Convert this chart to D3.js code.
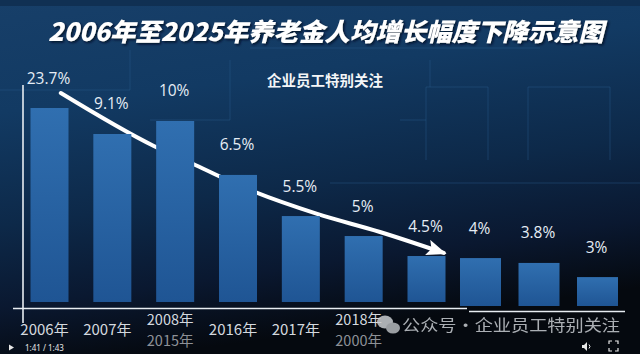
<!DOCTYPE html>
<html><head><meta charset="utf-8">
<script src="https://cdn.jsdelivr.net/npm/d3@7/dist/d3.min.js"></script>
<style>html,body{margin:0;padding:0;background:#0a1628;overflow:hidden}svg{display:block}</style>
</head><body><svg id="chart" width="640" height="354"></svg>
<script>
// ---- data ----
const categories = ["2006年","2007年","2008年","2016年","2017年","2018年","2021年","2022年","2023年","2024年"];
const subLabels  = ["","","2015年","","","2000年","","","",""];
const growthRates = [23.7, 9.1, 10, 6.5, 5.5, 5, 4.5, 4, 3.8, 3];           // value labels (%)
const barLevels   = [100, 86.6, 93.3, 65.5, 44.3, 34, 23.7, 24.7, 22.2, 14.9]; // schematic bar heights as drawn (relative, tallest = 100)
const trendIndex  = [0.18, 1.66, 2.32, 3.19, 4.26, 5.26, 6.32];               // trend arrow, category position
const trendLevel  = [107.7, 80.4, 70.6, 57.7, 45.4, 36.1, 25.3];              // trend arrow, level
const titleText = "2006年至2025年养老金人均增长幅度下降示意图";
const subTitle = "企业员工特别关注";
const watermark = "公众号·企业员工特别关注";
const visibleCategoryCount = 6; // the later year labels are hidden under the watermark

// ---- setup ----
const W = 640, H = 354;
const svg = d3.select("#chart");
const defs = svg.append("defs");

const bg = defs.append("linearGradient").attr("id","bg").attr("x1",0).attr("y1",0).attr("x2",0.25).attr("y2",1);
[[0,"#173f69"],[0.3,"#123a63"],[0.6,"#0d2949"],[0.82,"#0a1830"],[1,"#05090f"]].forEach(([o,c])=>bg.append("stop").attr("offset",o).attr("stop-color",c));
const barG = defs.append("linearGradient").attr("id","barg").attr("x1",0).attr("y1",0).attr("x2",0).attr("y2",1);
barG.append("stop").attr("offset",0).attr("stop-color","#306fb0");
barG.append("stop").attr("offset",1).attr("stop-color","#1f5594");
const sh = defs.append("filter").attr("id","shadow").attr("x","-5%").attr("y","-30%").attr("width","110%").attr("height","160%");
sh.append("feDropShadow").attr("dx",1.5).attr("dy",1.5).attr("stdDeviation",1.2).attr("flood-color","#041020").attr("flood-opacity",0.9);
defs.append("marker").attr("id","arrow").attr("markerUnits","userSpaceOnUse")
  .attr("viewBox","0 0 20 16").attr("refX",17).attr("refY",8)
  .attr("markerWidth",20).attr("markerHeight",16).attr("orient","auto")
  .append("path").attr("d","M0,0 L20,8 L0,16 L4,8 Z").attr("fill","#ffffff");

svg.append("rect").attr("width",W).attr("height",H).attr("fill","url(#bg)");
svg.append("rect").attr("width",W).attr("height",6).attr("fill","#0f2d4e").attr("opacity",0.8);

// faint decorative circuit lines
const deco = svg.append("g").attr("stroke","#2a5a8c").attr("stroke-width",1).attr("fill","none").attr("opacity",0.45);
deco.append("path").attr("d","M426,160 V87 H488 V160 M528,160 V87 H610 V160 M400,120 H426 M330,183 H640 M430,87 V60 M0,90 H130 V50 M150,120 H230 V60 M250,48 H540");

// ---- scales ----
const x = d3.scaleLinear().domain([0,6,7,9]).range([49.5,426.5,480.5,597.5]);
const yA = d3.scaleLinear().domain([0,100]).range([302,108]);
const yB = d3.scaleLinear().domain([0,100]).range([306,112]);
const yOf = i => i < 7 ? yA : yB;
const bw = i => i < 7 ? 38 : 41;

// trend arrow (under bars)
const pts = trendIndex.map((t,i)=>[x(t), yA(trendLevel[i])]);
svg.append("path").attr("d", d3.line().curve(d3.curveMonotoneX)(pts))
  .attr("fill","none").attr("stroke","#ffffff").attr("stroke-width",4)
  .attr("stroke-linecap","round").attr("marker-end","url(#arrow)");

// bars
svg.append("g").selectAll("rect").data(barLevels).join("rect")
  .attr("x",(d,i)=>x(i)-bw(i)/2)
  .attr("y",(d,i)=>yOf(i)(d))
  .attr("width",(d,i)=>bw(i))
  .attr("height",(d,i)=>yOf(i)(0)-yOf(i)(d))
  .attr("fill","url(#barg)");

// value labels
svg.append("g").selectAll("text").data(growthRates).join("text")
  .attr("x",(d,i)=>x(i)-1)
  .attr("y",(d,i)=>yOf(i)(barLevels[i]) - 30 + 5.5)
  .attr("text-anchor","middle")
  .attr("font-family","'Open Sans','Noto Sans',sans-serif")
  .attr("font-size",15.5).attr("fill","#e6edf5")
  .text(d=>d+"%");

// axes lines
svg.append("line").attr("x1",23).attr("x2",23).attr("y1",85).attr("y2",323).attr("stroke","#e8edf2").attr("stroke-width",1.6);
svg.append("line").attr("x1",13).attr("x2",467).attr("y1",308.5).attr("y2",308.5).attr("stroke","#e8edf2").attr("stroke-width",1.6);
svg.append("line").attr("x1",469).attr("x2",625).attr("y1",311.5).attr("y2",311.5).attr("stroke","#e8edf2").attr("stroke-width",1.6);

// category labels
const catG = svg.append("g").attr("font-family","'Noto Sans CJK SC','Noto Sans',sans-serif").attr("text-anchor","middle");
const shownCats = categories.slice(0, visibleCategoryCount);
catG.selectAll("text.c").data(shownCats).join("text").attr("class","c")
  .attr("x",(d,i)=>x(i)-5)
  .attr("y",(d,i)=> subLabels[i] ? 325 : 335)
  .attr("font-size",(d,i)=> subLabels[i] ? 14.5 : 15)
  .attr("fill","#d4d9df")
  .text(d=>d);
catG.selectAll("text.s").data(subLabels.slice(0, visibleCategoryCount)).join("text").attr("class","s")
  .attr("x",(d,i)=>x(i)-5).attr("y",346).attr("font-size",14.5).attr("fill","#8d9197").text(d=>d);

// watermark
const wm = svg.append("g").attr("opacity",0.85);
wm.append("ellipse").attr("cx",385).attr("cy",322).attr("rx",8).attr("ry",6.5).attr("fill","#c9ccd0");
wm.append("ellipse").attr("cx",393).attr("cy",328).attr("rx",7).attr("ry",5.5).attr("fill","#b5b8bc");
wm.append("text").attr("x",402).attr("y",331).attr("font-family","'Noto Sans CJK SC',sans-serif")
  .attr("font-size",16).attr("fill","#c8ccd1").attr("textLength",218).attr("lengthAdjust","spacingAndGlyphs").text(watermark);

// titles
svg.append("text").attr("x",48).attr("y",41)
  .attr("font-family","'Noto Sans CJK SC',sans-serif").attr("font-weight",900).attr("font-size",25)
  .attr("font-style","italic")
  .attr("fill","#ffffff").attr("filter","url(#shadow)")
  .attr("textLength",556).attr("lengthAdjust","spacingAndGlyphs")
  .text(titleText);
svg.append("text").attr("x",267).attr("y",85.5)
  .attr("font-family","'Noto Sans CJK SC',serif").attr("font-weight",700).attr("font-size",14.5)
  .attr("fill","#f4f6f8").attr("textLength",116).attr("lengthAdjust","spacingAndGlyphs")
  .text(subTitle);

// video player overlay
const vp = svg.append("g").attr("fill","#e8e8e8");
vp.append("path").attr("d","M9,344.5 L14,347.5 L9,350.5 Z");
vp.append("text").attr("x",25).attr("y",351).attr("font-family","'Noto Sans',sans-serif").attr("font-size",8).text("1:41 / 1:43");
vp.append("path").attr("d","M582,345 h2 l3,-3 v9 l-3,-3 h-2 Z");
vp.append("path").attr("d","M589,344.5 q2,2 0,4").attr("fill","none").attr("stroke","#e8e8e8");
vp.append("path").attr("d","M609,344 v-3 h3 M615,341 h3 v3 M618,348 v3 h-3 M612,351 h-3 v-3").attr("fill","none").attr("stroke","#e8e8e8").attr("stroke-width",1.2);
</script></body></html>
